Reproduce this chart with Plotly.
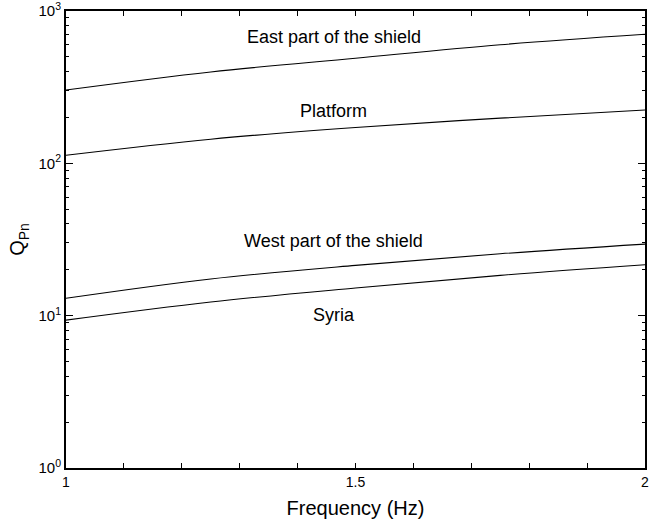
import plotly.graph_objects as go

# Frequencies (Hz) at which the curves were read
freq = [1.0, 1.25, 1.5, 1.75, 2.0]
# Q_Pn values
east = [303, 398, 490, 600, 703]
platform = [113, 144, 172, 198, 224]
west = [13.0, 17.4, 21.4, 25.5, 29.5]
syria = [9.35, 12.3, 15.2, 18.4, 21.6]

series_names = ["East part of the shield", "Platform", "West part of the shield", "Syria"]
series_vals = [east, platform, west, syria]
# label anchor positions (frequency, log10 Q)
label_x = [1.462, 1.462, 1.462, 1.462]
label_logy = [2.831, 2.345, 1.492, 1.005]

x_ticks = [1.0, 1.1, 1.2, 1.3, 1.4, 1.5, 1.6, 1.7, 1.8, 1.9, 2.0]
x_ticktext = ["1", "", "", "", "", "1.5", "", "", "", "", "2"]
y_ticks = [1, 10, 100, 1000]
y_ticktext = ["10<sup>0</sup>", "10<sup>1</sup>", "10<sup>2</sup>", "10<sup>3</sup>"]
y_minor = [m * 10 ** e for e in range(0, 3) for m in range(2, 10)]

FONT = "Liberation Sans, Arial, Helvetica, sans-serif"

fig = go.Figure()
for name, vals in zip(series_names, series_vals):
    fig.add_trace(go.Scatter(x=freq, y=vals, mode="lines", name=name,
                             line=dict(color="black", width=1.1, shape="spline")))

for name, lx, ly in zip(series_names, label_x, label_logy):
    fig.add_annotation(x=lx, y=ly, xref="x", yref="y", text=name, showarrow=False,
                       font=dict(family=FONT, size=18, color="black"))

fig.update_layout(
    width=650, height=527,
    margin=dict(l=66, r=5, t=11, b=59, autoexpand=False),
    paper_bgcolor="white", plot_bgcolor="white",
    showlegend=False,
    font=dict(family=FONT, color="black"),
    xaxis=dict(range=[1, 2], tickvals=x_ticks, ticktext=x_ticktext,
               ticks="inside", ticklen=5, tickwidth=1, tickcolor="black",
               showline=True, linecolor="black", linewidth=2, mirror="ticks",
               showgrid=False, zeroline=False, ticklabeloverflow="allow", automargin=False,
               tickfont=dict(size=14, family=FONT),
               title=dict(text="Frequency (Hz)", font=dict(size=20, family=FONT), standoff=12)),
    yaxis=dict(type="log", range=[0, 3], tickvals=y_ticks, ticktext=y_ticktext,
               ticks="inside", ticklen=7, tickwidth=1, tickcolor="black",
               showline=True, linecolor="black", linewidth=2, mirror="ticks",
               showgrid=False, zeroline=False, ticklabeloverflow="allow", automargin=False,
               tickfont=dict(size=15, family=FONT),
               minor=dict(tickvals=y_minor, ticks="inside", ticklen=3, tickcolor="black", showgrid=False),
               title=dict(text="Q<sub>Pn</sub>", font=dict(size=20, family=FONT), standoff=8)),
)

fig.write_html("out.html")
